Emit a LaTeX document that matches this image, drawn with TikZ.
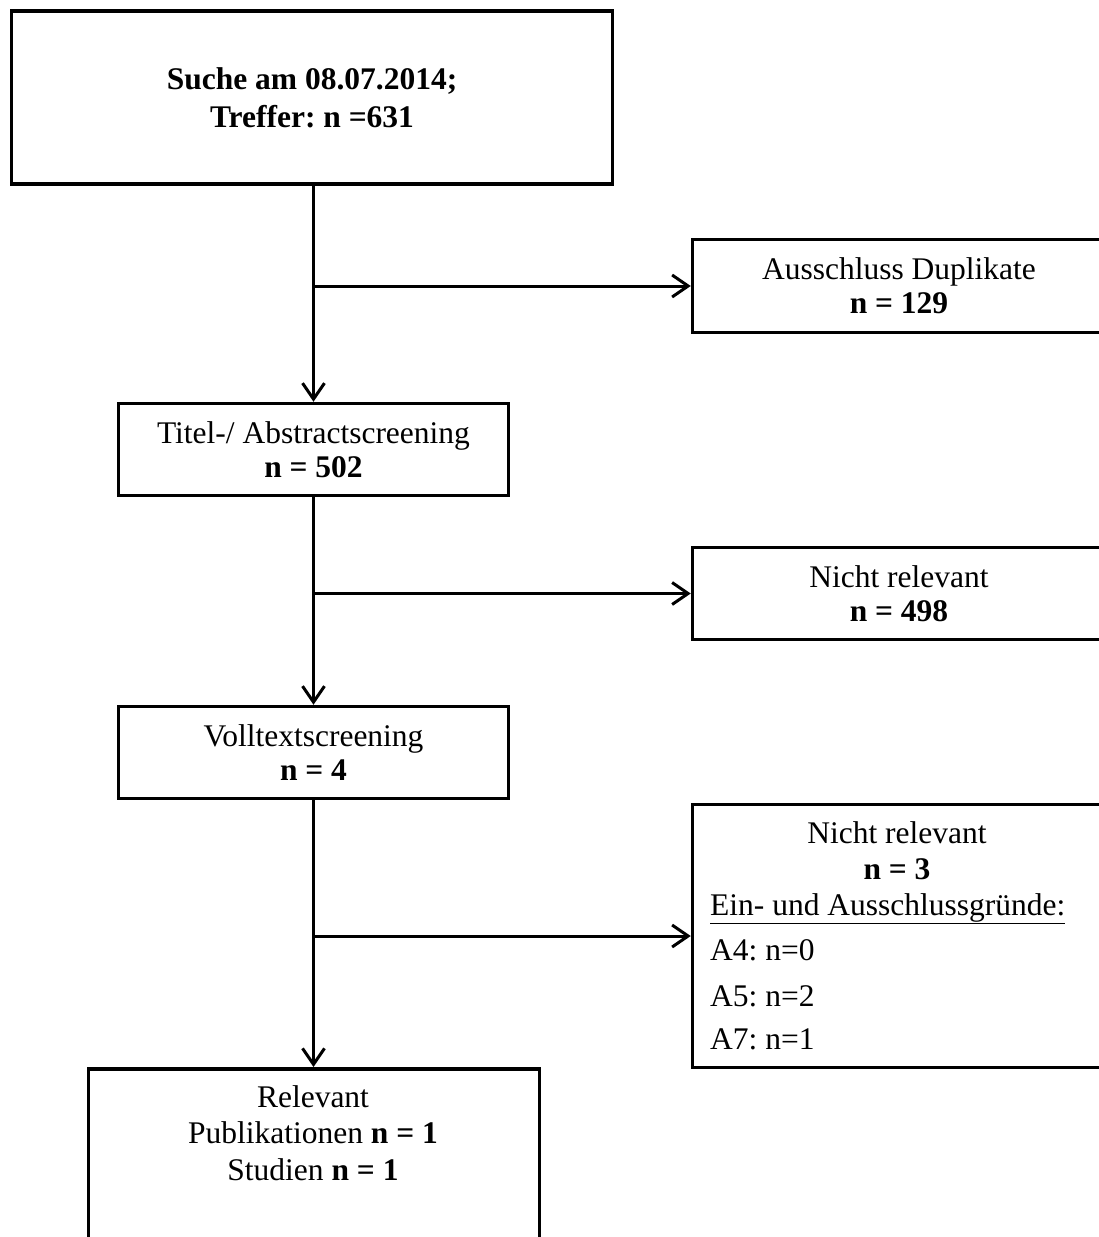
\documentclass[tikz,border=0pt]{standalone}
\usepackage{fontspec}
\setmainfont{Liberation Serif}
\usetikzlibrary{arrows.meta}
\newcommand\fsz{\frenchspacing\fontsize{31.5}{34}\selectfont}
\newcommand\fszt{\frenchspacing\fontsize{31.5}{38}\selectfont\bfseries}
\begin{document}
\begin{tikzpicture}[x=1pt,y=-1pt,
  box/.style={draw,line width=3.5pt,align=center,inner sep=0pt,font=\fsz},
  txt/.style={inner sep=0pt,font=\fsz},
  conn/.style={line width=3pt},
  arr/.style={conn,-{Straight Barb[length=16pt,width=22pt]}}]
\clip (0,0) rectangle (1099,1237);
% boxes
\node[box,minimum width=601,minimum height=173,font=\fszt] (top) at (312,97.5)
  {Suche am 08.07.2014;\\Treffer: n =631};
\node[box,minimum width=413,minimum height=93] (dup) at (899,286)
  {Ausschluss Duplikate\\\textbf{n = 129}};
\node[box,minimum width=390,minimum height=92] (titel) at (313.5,449.5)
  {Titel-/ Abstractscreening\\\textbf{n = 502}};
\node[box,minimum width=413,minimum height=92] (nr1) at (899,593.5)
  {Nicht relevant\\\textbf{n = 498}};
\node[box,minimum width=390,minimum height=92] (voll) at (313.5,752.5)
  {Volltextscreening\\\textbf{n = 4}};
\node[box,minimum width=413,minimum height=263] (nr2) at (899,936) {};
\node[box,minimum width=451,minimum height=260,anchor=north] (rel) at (314,1067) {};
% texts inside nr2
\node[txt,anchor=base] (nr2a) at (897,843) {Nicht relevant};
\node[txt,anchor=base] (nr2b) at (897,879) {\textbf{n = 3}};
\node[txt,anchor=base west] (nr2c) at (710,915) {\underline{Ein- und Ausschlussgründe:}};
\node[txt,anchor=base west] (nr2d) at (710,960) {A4: n=0};
\node[txt,anchor=base west] (nr2e) at (710,1006) {A5: n=2};
\node[txt,anchor=base west] (nr2f) at (710,1049) {A7: n=1};
% texts inside rel
\node[txt,anchor=base] (rela) at (313,1107) {Relevant};
\node[txt,anchor=base] (relb) at (313,1143) {Publikationen \textbf{n = 1}};
\node[txt,anchor=base] (relc) at (313,1180) {Studien \textbf{n = 1}};
% connectors
\draw[arr] (titel.north |- top.south) -- (titel.north);
\draw[arr] (titel.south) -- (voll.north);
\draw[arr] (voll.south) -- (voll.south |- rel.north);
\draw[arr] (titel.north |- dup.west) -- (dup.west);
\draw[arr] (titel.south |- nr1.west) -- (nr1.west);
\draw[arr] (voll.south |- nr2.west) -- (nr2.west);
\end{tikzpicture}
\end{document}
